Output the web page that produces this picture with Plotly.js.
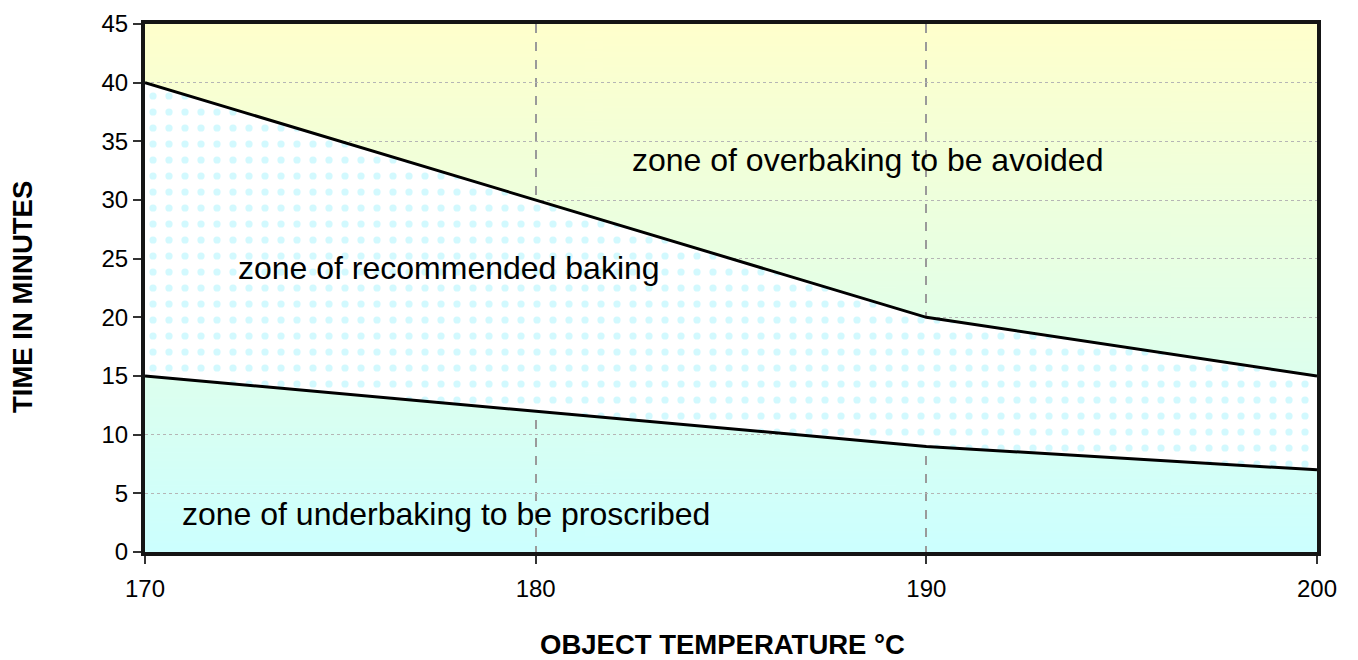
<!DOCTYPE html>
<html>
<head>
<meta charset="utf-8">
<script src="https://cdn.plot.ly/plotly-3.0.1.min.js"></script>
<style>
  html, body { margin: 0; padding: 0; background: #ffffff; }
  #chart { width: 1358px; height: 660px; }
</style>
</head>
<body>
<div id="chart"></div>
<script>
// ---- data ----
const temperatures = [170, 180, 190, 200];
const minTime = [15, 12, 9, 7];      // lower limit: underbaking below
const maxTime = [40, 30, 20, 15];    // upper limit: overbaking above
const xTickValues = [170, 180, 190, 200];
const yTickValues = [0, 5, 10, 15, 20, 25, 30, 35, 40, 45];
const zoneLabels = ["zone of overbaking to be avoided", "zone of recommended baking", "zone of underbaking to be proscribed"];
const xTitle = "OBJECT TEMPERATURE °C";
const yTitle = "TIME IN MINUTES";

// ---- gradient background (yellow top -> cyan bottom) ----
const cv = document.createElement('canvas');
cv.width = 4; cv.height = 512;
const ctx = cv.getContext('2d');
const g = ctx.createLinearGradient(0, 0, 0, 512);
g.addColorStop(0, '#FFFFCC');
g.addColorStop(1, '#CCFFFF');
ctx.fillStyle = g;
ctx.fillRect(0, 0, 4, 512);
const gradientURI = cv.toDataURL('image/png');

const FONT = '"Liberation Sans", Arial, sans-serif';

const traces = [
  {
    x: temperatures, y: minTime, type: 'scatter', mode: 'lines',
    line: { color: '#000000', width: 3 },
    hoverinfo: 'x+y', showlegend: false
  },
  {
    x: temperatures, y: maxTime, type: 'scatter', mode: 'lines',
    fill: 'tonexty', fillcolor: '#ffffff',
    fillpattern: { shape: '.', bgcolor: '#ffffff', fgcolor: '#d2f9fe', size: 16, solidity: 0.16 },
    line: { color: '#000000', width: 3 },
    hoverinfo: 'x+y', showlegend: false
  }
];

const layout = {
  width: 1358, height: 660,
  margin: { l: 145, r: 41, t: 24, b: 108 },
  paper_bgcolor: '#ffffff',
  plot_bgcolor: 'rgba(0,0,0,0)',
  font: { family: FONT, color: '#000000' },
  showlegend: false,
  images: [{
    source: gradientURI, xref: 'paper', yref: 'paper',
    x: 0, y: 1, sizex: 1, sizey: 1, xanchor: 'left', yanchor: 'top',
    sizing: 'stretch', layer: 'below'
  }],
  xaxis: {
    range: [170, 200], tickvals: xTickValues, ticktext: xTickValues.map(String),
    showgrid: true, gridcolor: '#9a9a9a', gridwidth: 2, griddash: 'dash',
    showline: true, linecolor: '#151515', linewidth: 4, mirror: true,
    ticks: 'outside', ticklen: 8, tickwidth: 2, tickcolor: '#333333',
    ticklabelstandoff: 4,
    tickfont: { family: FONT, size: 24, color: '#000000' },
    zeroline: false, automargin: false
  },
  yaxis: {
    range: [0, 45], tickvals: yTickValues, ticktext: yTickValues.map(String),
    showgrid: true, gridcolor: '#b5b5b5', gridwidth: 1, griddash: 'dot',
    showline: true, linecolor: '#151515', linewidth: 4, mirror: true,
    ticks: 'outside', ticklen: 8, tickwidth: 2, tickcolor: '#333333',
    tickfont: { family: FONT, size: 24, color: '#000000' },
    zeroline: false, automargin: false
  },
  annotations: [
    { x: 188.5, y: 33.4, xref: 'x', yref: 'y', text: zoneLabels[0], showarrow: false,
      xanchor: 'center', yanchor: 'middle', font: { family: FONT, size: 32, color: '#000000' } },
    { x: 172.33, y: 24.2, xref: 'x', yref: 'y', text: zoneLabels[1], showarrow: false,
      xanchor: 'left', yanchor: 'middle', font: { family: FONT, size: 32, color: '#000000' } },
    { x: 170.9, y: 3.25, xref: 'x', yref: 'y', text: zoneLabels[2], showarrow: false,
      xanchor: 'left', yanchor: 'middle', font: { family: FONT, size: 32, color: '#000000' } },
    { x: 0.493, y: 0, xref: 'paper', yref: 'paper', yshift: -92, text: '<b>' + xTitle + '</b>', showarrow: false,
      xanchor: 'center', yanchor: 'middle', font: { family: FONT, size: 27.5, color: '#000000' } },
    { x: 0, y: 0.5, xref: 'paper', yref: 'paper', xshift: -123, yshift: -9, textangle: -90,
      text: '<b>' + yTitle + '</b>', showarrow: false,
      xanchor: 'center', yanchor: 'middle', font: { family: FONT, size: 27.5, color: '#000000' } }
  ]
};

Plotly.newPlot('chart', traces, layout, { staticPlot: true, displayModeBar: false });
</script>
</body>
</html>
